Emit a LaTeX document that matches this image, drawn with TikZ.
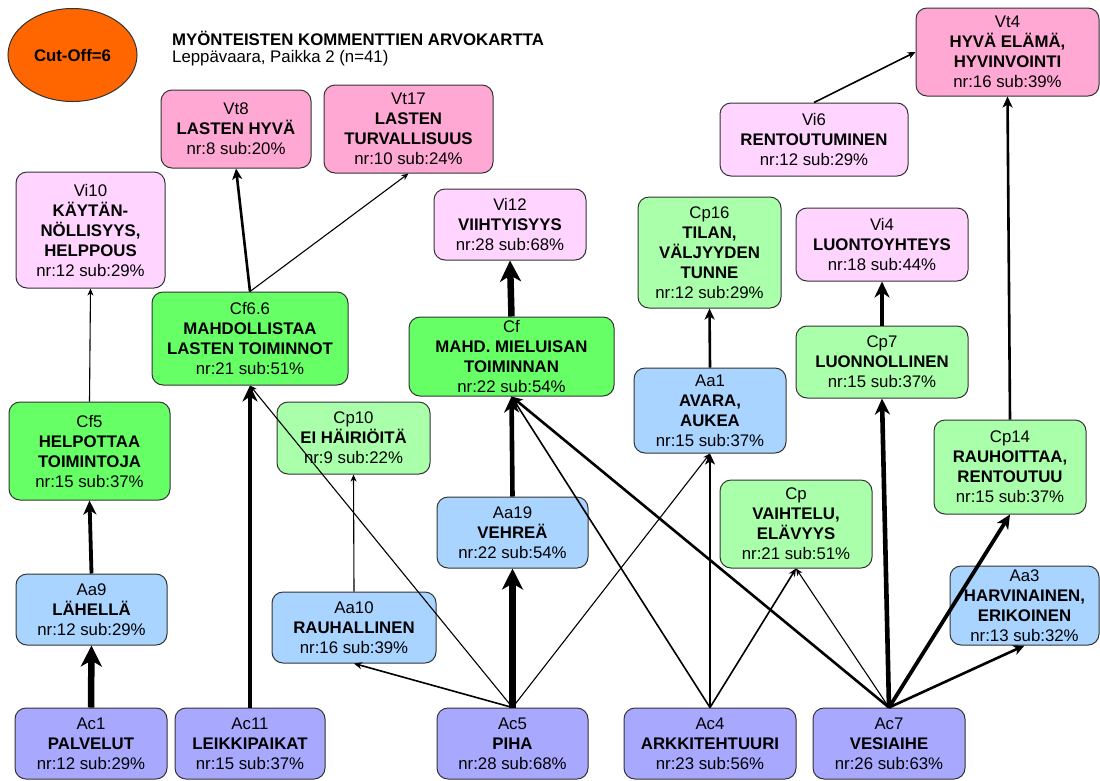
\documentclass[tikz,border=0pt]{standalone}
\usepackage{fontspec}
\setmainfont{Liberation Sans}
\usetikzlibrary{arrows.meta,shapes.geometric}
\definecolor{vt}{HTML}{FFA8D4}
\definecolor{vi}{HTML}{FFD5FF}
\definecolor{cf}{HTML}{66FF66}
\definecolor{cp}{HTML}{AAFFAA}
\definecolor{aa}{HTML}{A8D4FF}
\definecolor{ac}{HTML}{A8A8FF}
\definecolor{co}{HTML}{FF6600}
\newcommand{\bx}[7]{\node[box,fill=#2,minimum width={#5-#3},minimum height={#6-#4}] (#1) at ({(#3+#5)/2},{(#4+#6)/2}) {#7};}
\begin{document}
\begin{tikzpicture}[x=1pt,y=-1pt,
  txt/.style={font=\fontsize{16.8}{20}\selectfont},
  box/.style={txt,draw=black!80,line width=1pt,rounded corners=11pt,align=center,inner sep=0pt},
  e1/.style={line width=1.1pt,-{Stealth[length=7pt,width=6pt,inset=2pt]}},
  e2/.style={line width=1.6pt,-{Stealth[length=8pt,width=7pt,inset=2.5pt]}},
  e3/.style={line width=2.6pt,-{Stealth[length=11pt,width=10pt,inset=3pt]}},
  e4/.style={line width=3.8pt,-{Stealth[length=14pt,width=13pt,inset=4pt]}},
  e5/.style={line width=4.6pt,-{Stealth[length=16pt,width=15pt,inset=5pt]}},
  e6/.style={line width=6.5pt,-{Stealth[length=21pt,width=21pt,inset=6pt]}}]
\useasboundingbox (0,0) rectangle (1100,780);
\fill[white] (0,0) rectangle (1100,780);
% legend and title
\node[ellipse,draw=black!80,line width=1pt,fill=co,minimum width=129,minimum height=93,inner sep=0pt,txt] (cut) at (72.5,55) {\textbf{Cut-Off=6}};
\node[anchor=west,inner sep=0pt,txt] (title) at (172,38) {\textbf{MYÖNTEISTEN KOMMENTTIEN ARVOKARTTA}};
\node[anchor=west,inner sep=0pt,txt] (subtitle) at (172,58) {Leppävaara, Paikka 2 (n=41)};
% nodes
\bx{vt8}{vt}{161}{90}{311}{168}{Vt8\\\textbf{LASTEN HYVÄ}\\nr:8 sub:20\%}
\bx{vt17}{vt}{324}{85}{493}{173}{Vt17\\\textbf{LASTEN}\\\textbf{TURVALLISUUS}\\nr:10 sub:24\%}
\bx{vi10}{vi}{16}{172}{165}{288}{Vi10\\\textbf{KÄYTÄN-}\\\textbf{NÖLLISYYS,}\\\textbf{HELPPOUS}\\nr:12 sub:29\%}
\bx{vi12}{vi}{434}{189}{586}{260}{Vi12\\\textbf{VIIHTYISYYS}\\nr:28 sub:68\%}
\bx{cfsix}{cf}{152}{292}{348}{385}{Cf6.6\\\textbf{MAHDOLLISTAA}\\\textbf{LASTEN TOIMINNOT}\\nr:21 sub:51\%}
\bx{cf}{cf}{409}{317}{614}{396}{Cf\\\textbf{MAHD. MIELUISAN}\\\textbf{TOIMINNAN}\\nr:22 sub:54\%}
\bx{cffive}{cf}{9}{402}{170}{500}{Cf5\\\textbf{HELPOTTAA}\\\textbf{TOIMINTOJA}\\nr:15 sub:37\%}
\bx{cpten}{cp}{277}{402}{430}{474}{Cp10\\\textbf{EI HÄIRIÖITÄ}\\nr:9 sub:22\%}
\bx{aanineteen}{aa}{437}{497}{588}{568}{Aa19\\\textbf{VEHREÄ}\\nr:22 sub:54\%}
\bx{aanine}{aa}{16}{574}{167}{645}{Aa9\\\textbf{LÄHELLÄ}\\nr:12 sub:29\%}
\bx{aaten}{aa}{272}{592}{436}{663}{Aa10\\\textbf{RAUHALLINEN}\\nr:16 sub:39\%}
\bx{acone}{ac}{15}{708}{167}{779}{Ac1\\\textbf{PALVELUT}\\nr:12 sub:29\%}
\bx{aceleven}{ac}{175}{708}{325}{779}{Ac11\\\textbf{LEIKKIPAIKAT}\\nr:15 sub:37\%}
\bx{acfive}{ac}{437}{708}{588}{779}{Ac5\\\textbf{PIHA}\\nr:28 sub:68\%}
\bx{acfour}{ac}{624}{708}{796}{779}{Ac4\\\textbf{ARKKITEHTUURI}\\nr:23 sub:56\%}
\bx{acseven}{ac}{813}{708}{965}{779}{Ac7\\\textbf{VESIAIHE}\\nr:26 sub:63\%}
\bx{vtfour}{vt}{916}{8}{1099}{96}{Vt4\\\textbf{HYVÄ ELÄMÄ,}\\\textbf{HYVINVOINTI}\\nr:16 sub:39\%}
\bx{visix}{vi}{720}{103}{908}{176}{Vi6\\\textbf{RENTOUTUMINEN}\\nr:12 sub:29\%}
\bx{cpsixteen}{cp}{638}{197}{781}{308}{Cp16\\\textbf{TILAN,}\\\textbf{VÄLJYYDEN}\\\textbf{TUNNE}\\nr:12 sub:29\%}
\bx{vifour}{vi}{796}{208}{968}{281}{Vi4\\\textbf{LUONTOYHTEYS}\\nr:18 sub:44\%}
\bx{aaone}{aa}{634}{368}{786}{453}{Aa1\\\textbf{AVARA,}\\\textbf{AUKEA}\\nr:15 sub:37\%}
\bx{cpseven}{cp}{796}{326}{968}{398}{Cp7\\\textbf{LUONNOLLINEN}\\nr:15 sub:37\%}
\bx{cpfourteen}{cp}{934}{420}{1086}{514}{Cp14\\\textbf{RAUHOITTAA,}\\\textbf{RENTOUTUU}\\nr:15 sub:37\%}
\bx{cp}{cp}{720}{480}{872}{568}{Cp\\\textbf{VAIHTELU,}\\\textbf{ELÄVYYS}\\nr:21 sub:51\%}
\bx{aathree}{aa}{950}{566}{1099}{645}{Aa3\\\textbf{HARVINAINEN,}\\\textbf{ERIKOINEN}\\nr:13 sub:32\%}
% connectors
\draw[e6] (acone.north) -- (aanine.south);
\draw[e4] (aanine.north) -- (cffive.south);
\draw[e1] (cffive.north) -- (vi10.south);
\draw[e5] (aceleven.north) -- (cfsix.south);
\draw[e3] (cfsix.north) -- (vt8.south);
\draw[e1] (cfsix.north) -- (vt17.south);
\draw[e1] (aaten.north) -- (cpten.south);
\draw[e2] (acfive.north) -- (aaten.south);
\draw[e1] (acfive.north) -- (cfsix.south);
\draw[e6] (acfive.north) -- (aanineteen.south);
\draw[e5] (aanineteen.north) -- (cf.south);
\draw[e6] (cf.north) -- (vi12.south);
\draw[e1] (acfive.north) -- (aaone.south);
\draw[e2] (acfour.north) -- (cf.south);
\draw[e3] (acseven.north) -- (cf.south);
\draw[e3] (acfour.north) -- (aaone.south);
\draw[e3] (aaone.north) -- (cpsixteen.south);
\draw[e2] (acfour.north) -- (cp.south);
\draw[e1] (acseven.north) -- (cp.south);
\draw[e5] (acseven.north) -- (cpseven.south);
\draw[e5] (cpseven.north) -- (vifour.south);
\draw[e4] (acseven.north) -- (cpfourteen.south);
\draw[e3] (cpfourteen.north) -- (vtfour.south);
\draw[e3] (acseven.north) -- (aathree.south);
\draw[e2] (visix.north) -- (vtfour.west);
\end{tikzpicture}
\end{document}
